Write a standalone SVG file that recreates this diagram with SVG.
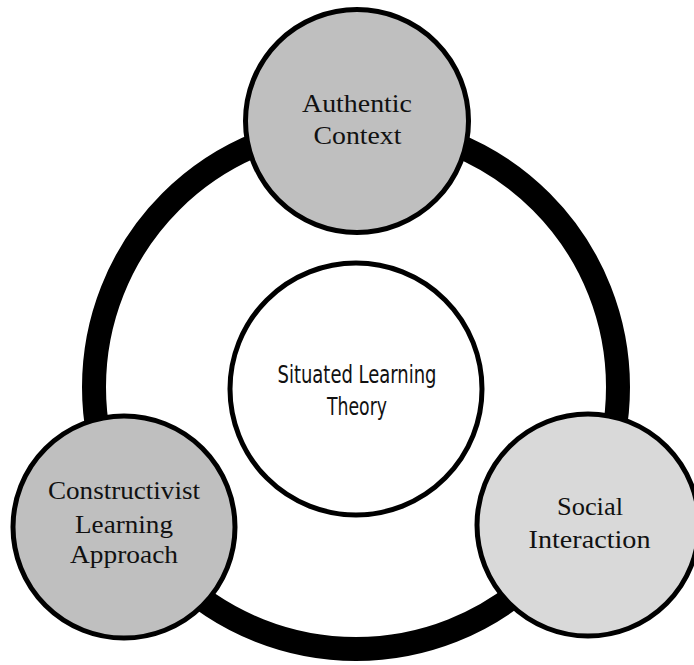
<svg xmlns="http://www.w3.org/2000/svg" width="694" height="665" viewBox="0 0 694 665">
<style>
.node{stroke:#000;stroke-width:5}
.lbl{font-family:"Liberation Serif","DejaVu Serif",serif;font-size:26px;fill:#111;text-anchor:middle}
.ctr{font-family:"Liberation Sans Narrow","DejaVu Sans Condensed","Liberation Sans",sans-serif;font-stretch:condensed;font-size:25px;fill:#111;text-anchor:middle}
</style>
<rect x="0" y="0" width="694" height="665" fill="#fff"/>
<g id="connectors">
<circle cx="356" cy="387" r="262" fill="none" stroke="#000" stroke-width="24"/>
</g>
<g id="center">
<circle class="node" cx="356" cy="389" r="126" fill="#fff" stroke-width="6"/>
<text class="ctr" x="357" y="383" textLength="159" lengthAdjust="spacingAndGlyphs">Situated Learning</text>
<text class="ctr" x="357" y="415" textLength="60" lengthAdjust="spacingAndGlyphs">Theory</text>
</g>
<g id="authentic">
<circle class="node" cx="357" cy="121" r="111.5" fill="#bfbfbf"/>
<text class="lbl" x="357" y="112" textLength="110" lengthAdjust="spacingAndGlyphs">Authentic</text>
<text class="lbl" x="357.5" y="144" textLength="88" lengthAdjust="spacingAndGlyphs">Context</text>
</g>
<g id="constructivist">
<circle class="node" cx="124" cy="527" r="111" fill="#bfbfbf"/>
<text class="lbl" x="124" y="499" textLength="152" lengthAdjust="spacingAndGlyphs">Constructivist</text>
<text class="lbl" x="124" y="533" textLength="98" lengthAdjust="spacingAndGlyphs">Learning</text>
<text class="lbl" x="124" y="563" textLength="108" lengthAdjust="spacingAndGlyphs">Approach</text>
</g>
<g id="social">
<circle class="node" cx="588" cy="525" r="111" fill="#d9d9d9"/>
<text class="lbl" x="590" y="515" textLength="66" lengthAdjust="spacingAndGlyphs">Social</text>
<text class="lbl" x="589.5" y="548" textLength="122" lengthAdjust="spacingAndGlyphs">Interaction</text>
</g>
</svg>
